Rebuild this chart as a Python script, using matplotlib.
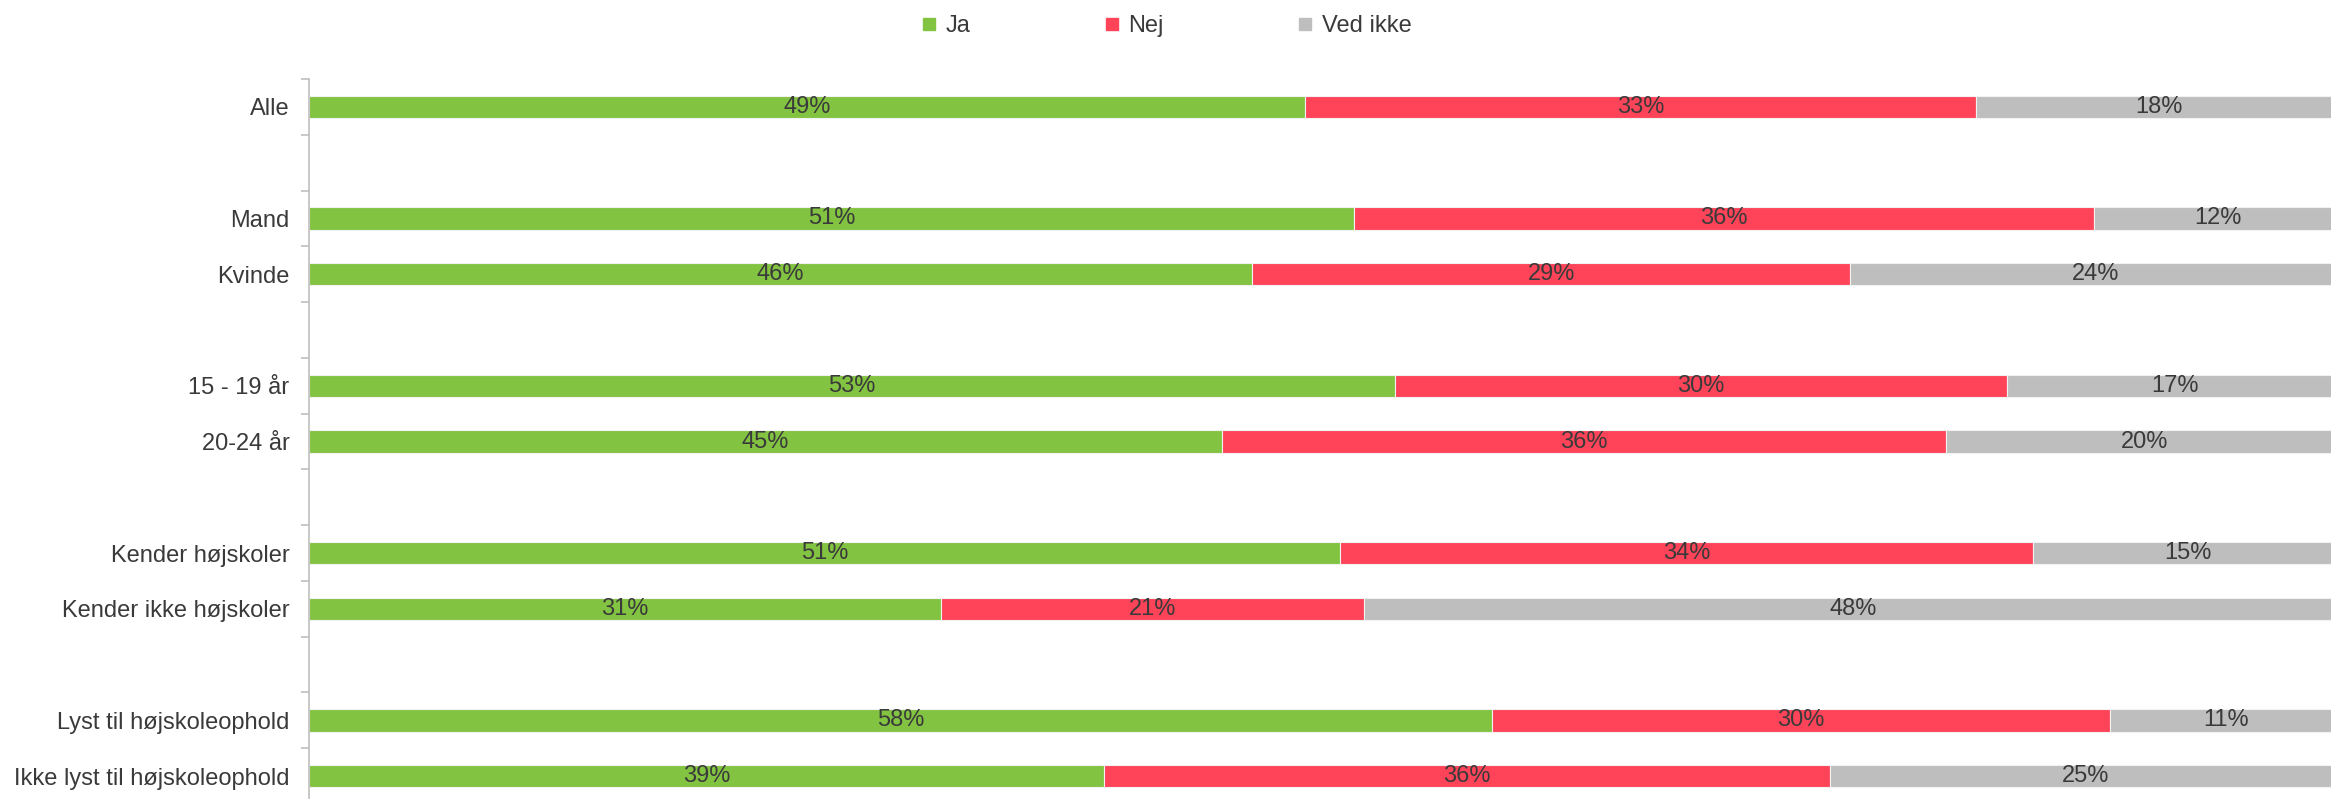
import numpy as np
import matplotlib

matplotlib.use("Agg")
import matplotlib.pyplot as plt  # noqa: E402
from matplotlib.lines import Line2D  # noqa: E402

plt.rcParams["font.family"] = ["Liberation Sans Narrow", "Liberation Sans", "DejaVu Sans"]

# Rows top to bottom; empty strings are spacer rows between groups.
CATEGORIES = [
    "Alle", "",
    "Mand", "Kvinde", "",
    "15 - 19 år", "20-24 år", "",
    "Kender højskoler", "Kender ikke højskoler", "",
    "Lyst til højskoleophold", "Ikke lyst til højskoleophold",
]
NAN = np.nan
JA = [49.0, NAN, 51.4, 46.4, NAN, 53.4, 44.9, NAN, 50.7, 31.1, NAN, 58.2, 39.1]
NEJ = [33.0, NAN, 36.4, 29.4, NAN, 30.1, 35.6, NAN, 34.1, 20.8, NAN, 30.4, 35.7]
VED_IKKE = [18.0, NAN, 12.2, 24.2, NAN, 16.6, 19.6, NAN, 15.2, 48.1, NAN, 11.4, 25.2]

SERIES = ["Ja", "Nej", "Ved ikke"]
COLORS = ["#82C341", "#FF4459", "#BEBEBE"]
TEXT = "#3A3A3A"
FS = 17

W, H, DPI = 2331, 799, 100
fig = plt.figure(figsize=(W / DPI, H / DPI), dpi=DPI)
# plot area runs slightly past the right/bottom edge, like the original crop
ax = fig.add_axes([309 / W, -5 / H, (2342 - 309) / W, (804 - 79) / H])

y = np.arange(len(CATEGORIES))
left = np.zeros(len(CATEGORIES))
for name, vals, col in zip(SERIES, [JA, NEJ, VED_IKKE], COLORS):
    vals = np.array(vals)
    ax.barh(y, vals, left=left, height=0.4, color=col, edgecolor="#f2f2f2",
            linewidth=0.8, label=name)
    for yi, (l, v) in enumerate(zip(left, vals)):
        if np.isnan(v):
            continue
        ax.text(l + v / 2, yi, f"{v:.0f}%", ha="center", va="center",
                fontsize=FS, color=TEXT)
    left = np.where(np.isnan(vals), left, left + np.nan_to_num(vals))

ax.set_xlim(0, 100)
ax.set_ylim(len(CATEGORIES) - 0.5, -0.5)
ax.set_yticks(y)
ax.set_yticklabels(CATEGORIES, fontsize=FS, color=TEXT)
ax.set_yticks(np.arange(len(CATEGORIES) + 1) - 0.5, minor=True)
ax.tick_params(axis="y", which="major", length=0, pad=14)
ax.tick_params(axis="y", which="minor", length=6, color="#BFBFBF", width=1.2)
ax.set_xticks([])
for side in ("top", "right", "bottom"):
    ax.spines[side].set_visible(False)
ax.spines["left"].set_color("#BFBFBF")
ax.spines["left"].set_linewidth(1.2)

handles = [Line2D([], [], marker="s", linestyle="none", markersize=9,
                  color=c, label=s) for s, c in zip(SERIES, COLORS)]
leg = fig.legend(handles=handles, loc="upper center", bbox_to_anchor=(0.5, 1.008),
                 ncol=3, frameon=False, fontsize=FS, columnspacing=5.6,
                 handletextpad=0.3, handlelength=0.8)
for t in leg.get_texts():
    t.set_color(TEXT)

fig.savefig("out.png", dpi=DPI)
